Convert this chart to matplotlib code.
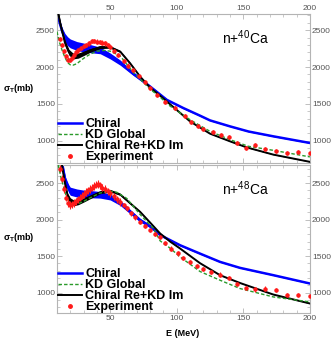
import numpy as np
import matplotlib
matplotlib.use('Agg')
import matplotlib.pyplot as plt
from matplotlib.lines import Line2D
from matplotlib.ticker import MultipleLocator

plt.rcParams['font.family'] = ['Liberation Sans', 'DejaVu Sans']
plt.rcParams['mathtext.default'] = 'regular'

# ---- n + 40Ca ----
ca40_chiral_e = [10, 12, 14, 16, 18, 20, 25, 30, 35, 42.5, 50, 57.5, 67, 80, 92.5, 105, 117.5, 125, 140, 154, 172.5, 200]
ca40_chiral_s = [2760, 2600, 2480, 2400, 2350, 2320, 2285, 2265, 2250, 2225, 2150, 2060, 1915, 1735, 1555, 1443, 1340, 1276, 1195, 1125, 1060, 970]
ca40_chiral_w = [30, 40, 50, 55, 60, 60, 60, 60, 55, 45, 40, 35, 25, 15, 12, 10, 8, 6, 5, 5, 5, 5]

ca40_kd_e = [10, 12, 14, 16, 18, 20, 22, 25, 28, 31, 35, 40, 45, 50, 57.5, 67.5, 80, 87.5, 95, 110, 125, 140, 153.75, 172.5, 200]
ca40_kd_s = [2480, 2330, 2220, 2130, 2060, 2030, 2025, 2045, 2090, 2130, 2175, 2215, 2225, 2215, 2150, 1925, 1700, 1590, 1470, 1285, 1127, 1015, 925, 870, 781]

ca40_mix_e = [10, 11, 13, 16, 19, 22, 26, 30, 35, 42.5, 50, 57.5, 65, 72.5, 80, 87.5, 95, 110, 125, 140, 152.5, 172.5, 200]
ca40_mix_s = [2850, 2725, 2550, 2330, 2200, 2150, 2155, 2185, 2225, 2270, 2270, 2210, 2050, 1870, 1720, 1610, 1495, 1262, 1096, 992, 910, 812, 714]
ca40_mix_w = [20, 25, 30, 35, 40, 40, 35, 30, 25, 20, 15, 12, 10, 8, 5, 4, 3, 2, 2, 2, 2, 2, 2]

ca40_exp_e = [12, 13.5, 15, 16.5, 18, 19.5, 21, 22.5, 24, 26, 28, 30, 32, 34, 36, 38, 40, 42, 44, 46, 48, 50,
              53, 56, 60, 63.5, 67.5, 72, 76, 80, 85, 91, 99, 106, 111, 116, 120, 127.5, 133, 139, 145, 152,
              159, 166, 174.5, 182.5, 191, 200]
ca40_exp_s = [2380, 2300, 2220, 2150, 2100, 2095, 2120, 2160, 2200, 2225, 2260, 2285, 2300, 2320, 2350, 2355, 2345, 2340, 2330, 2320, 2300, 2270,
              2220, 2160, 2080, 2020, 1960, 1880, 1800, 1712, 1620, 1520, 1447, 1339, 1249, 1200, 1163, 1114, 1080, 1054, 970, 907,
              947, 890, 857, 835, 844, 835]

# ---- n + 48Ca ----
ca48_chiral_e = [12, 14, 16.25, 18.75, 20, 25, 30, 35, 42.5, 50, 57.5, 65, 72.5, 80, 87.5, 95, 102.5, 117.5, 132.5, 147.5, 172.5, 200]
ca48_chiral_s = [2950, 2760, 2541, 2427, 2390, 2365, 2355, 2350, 2340, 2310, 2230, 2110, 1993, 1910, 1790, 1720, 1650, 1535, 1422, 1340, 1240, 1126]
ca48_chiral_w = [30, 40, 50, 55, 55, 55, 50, 50, 45, 40, 35, 30, 25, 20, 15, 12, 10, 8, 6, 5, 5, 5]

ca48_kd_e = [10, 11.25, 13, 15, 17, 18.75, 20, 22, 25, 27.5, 31, 35, 42.5, 50, 55, 62.5, 72.5, 82.5, 87.5, 95, 102.5, 117.5, 132.5, 147.5, 172.5, 200]
ca48_kd_s = [2900, 2723, 2580, 2450, 2320, 2244, 2210, 2205, 2215, 2230, 2260, 2300, 2365, 2390, 2375, 2290, 2070, 1880, 1710, 1610, 1490, 1290, 1171, 1057, 942, 874]

ca48_mix_e = [12, 14, 16, 18, 20, 22.5, 26, 30, 35, 42.5, 50, 57.5, 65, 72.5, 80, 87.5, 95, 102.5, 117.5, 132.5, 147.5, 172.5, 200]
ca48_mix_s = [2950, 2720, 2500, 2330, 2260, 2230, 2240, 2270, 2312, 2375, 2395, 2345, 2225, 2107, 1960, 1811, 1700, 1605, 1404, 1240, 1133, 975, 852]
ca48_mix_w = [20, 25, 30, 35, 40, 40, 35, 30, 25, 20, 15, 12, 10, 8, 5, 4, 3, 2, 2, 2, 2, 2, 2]

ca48_exp_e = [12, 13.5, 15, 16.5, 18, 19.5, 21, 22.5, 24, 25.5, 27, 28.5, 30, 31.5, 33, 34.5, 36, 37.5, 39, 40.5,
              42, 44, 46, 48, 50, 52.5, 55, 57.5, 60, 62.5, 66, 69, 72.5, 76, 80, 84, 87.5, 91, 96, 101,
              105, 110, 115, 120, 126, 132.5, 139, 145, 152, 159, 166, 174.5, 182.5, 191, 200]
ca48_exp_s = [2700, 2560, 2420, 2300, 2230, 2200, 2210, 2230, 2250, 2280, 2300, 2330, 2350, 2380, 2400, 2420, 2440, 2460, 2480, 2490,
              2470, 2440, 2420, 2390, 2360, 2320, 2280, 2240, 2200, 2153, 2085, 2030, 1970, 1910, 1856, 1800, 1765, 1680, 1605, 1537,
              1480, 1415, 1360, 1330, 1285, 1249, 1198, 1116, 1060, 1044, 1057, 1034, 966, 966, 952]

legend_labels = ["Chiral", "KD Global", "Chiral Re+KD Im", "Experiment"]
x_ticks = [50, 100, 150, 200]
y_ticks = [1000, 1500, 2000, 2500]

BLUE = '#0000ff'
GREEN = '#2a9a2a'
RED = '#ff1a1a'
FRAME = '#b4b4b4'
TICKTXT = '#555555'


def draw_panel(ax, ch_e, ch_s, ch_w, kd_e, kd_s, mx_e, mx_s, mx_w, ex_e, ex_s, ylim, title, top_labels, err_lo):
    ch_e, ch_s, ch_w = map(np.array, (ch_e, ch_s, ch_w))
    mx_e, mx_s, mx_w = map(np.array, (mx_e, mx_s, mx_w))
    ex_s = np.array(ex_s)
    err = np.where(np.array(ex_e) < 60, err_lo, 28)

    ax.fill_between(ch_e, ch_s - ch_w, ch_s + ch_w, color=BLUE, lw=0, zorder=2)
    ax.plot(ch_e, ch_s, color=BLUE, lw=1.8, zorder=2)
    ax.fill_between(mx_e, mx_s - mx_w, mx_s + mx_w, color='black', lw=0, zorder=3)
    ax.plot(mx_e, mx_s, color='black', lw=1.4, zorder=3)
    ax.plot(kd_e, kd_s, color=GREEN, lw=1.0, ls=(0, (2.5, 1.5)), zorder=4)
    ax.errorbar(ex_e, ex_s, yerr=err, fmt='o', ms=2.2, color=RED, ecolor=RED,
                elinewidth=0.8, capsize=0, zorder=5)

    ax.set_xlim(10, 200)
    ax.set_ylim(*ylim)
    ax.set_xticks(x_ticks)
    ax.set_yticks(y_ticks)
    ax.xaxis.set_minor_locator(MultipleLocator(10))
    ax.yaxis.set_minor_locator(MultipleLocator(100))
    ax.tick_params(which='both', direction='in', top=True, right=True, color=FRAME,
                   labelcolor=TICKTXT, labelsize=6, pad=1.5,
                   labelleft=True, labelright=True,
                   labeltop=top_labels, labelbottom=not top_labels)
    ax.tick_params(which='major', length=3.5, width=0.6)
    ax.tick_params(which='minor', length=2, width=0.5)
    for sp in ax.spines.values():
        sp.set_color(FRAME)
        sp.set_linewidth(0.8)

    ax.text(0.745, 0.84, title, transform=ax.transAxes, ha='center', va='center', fontsize=10)

    handles = [
        Line2D([], [], color=BLUE, lw=1.8),
        Line2D([], [], color=GREEN, lw=1.0, ls=(0, (2.5, 1.5))),
        Line2D([], [], color='black', lw=1.4),
        Line2D([], [], color=RED, marker='o', ms=2.5, ls='none'),
    ]
    leg = ax.legend(handles, legend_labels, loc='lower left', bbox_to_anchor=(0.0, -0.01),
                    frameon=False, handlelength=1.9, handletextpad=0.25, labelspacing=-0.08,
                    borderpad=0.1, borderaxespad=0.0, numpoints=1,
                    prop={'weight': 'bold', 'size': 9})
    leg.set_zorder(10)


fig = plt.figure(figsize=(3.35, 3.4), dpi=100)
ax1 = fig.add_axes([0.170, 0.521, 0.755, 0.438])
ax2 = fig.add_axes([0.170, 0.079, 0.755, 0.436])

draw_panel(ax1, ca40_chiral_e, ca40_chiral_s, ca40_chiral_w, ca40_kd_e, ca40_kd_s,
           ca40_mix_e, ca40_mix_s, ca40_mix_w, ca40_exp_e, ca40_exp_s,
           (700, 2720), r'n+$^{40}$Ca', True, 30)
draw_panel(ax2, ca48_chiral_e, ca48_chiral_s, ca48_chiral_w, ca48_kd_e, ca48_kd_s,
           ca48_mix_e, ca48_mix_s, ca48_mix_w, ca48_exp_e, ca48_exp_s,
           (720, 2750), r'n+$^{48}$Ca', False, 50)

fig.text(0.008, 0.741, r'$\sigma_T$(mb)', fontsize=6.5, fontweight='bold', va='center', ha='left')
fig.text(0.008, 0.300, r'$\sigma_T$(mb)', fontsize=6.5, fontweight='bold', va='center', ha='left')
fig.text(0.545, 0.02, 'E (MeV)', fontsize=6.5, fontweight='bold', va='center', ha='center')

fig.savefig('out.png', dpi=100)
